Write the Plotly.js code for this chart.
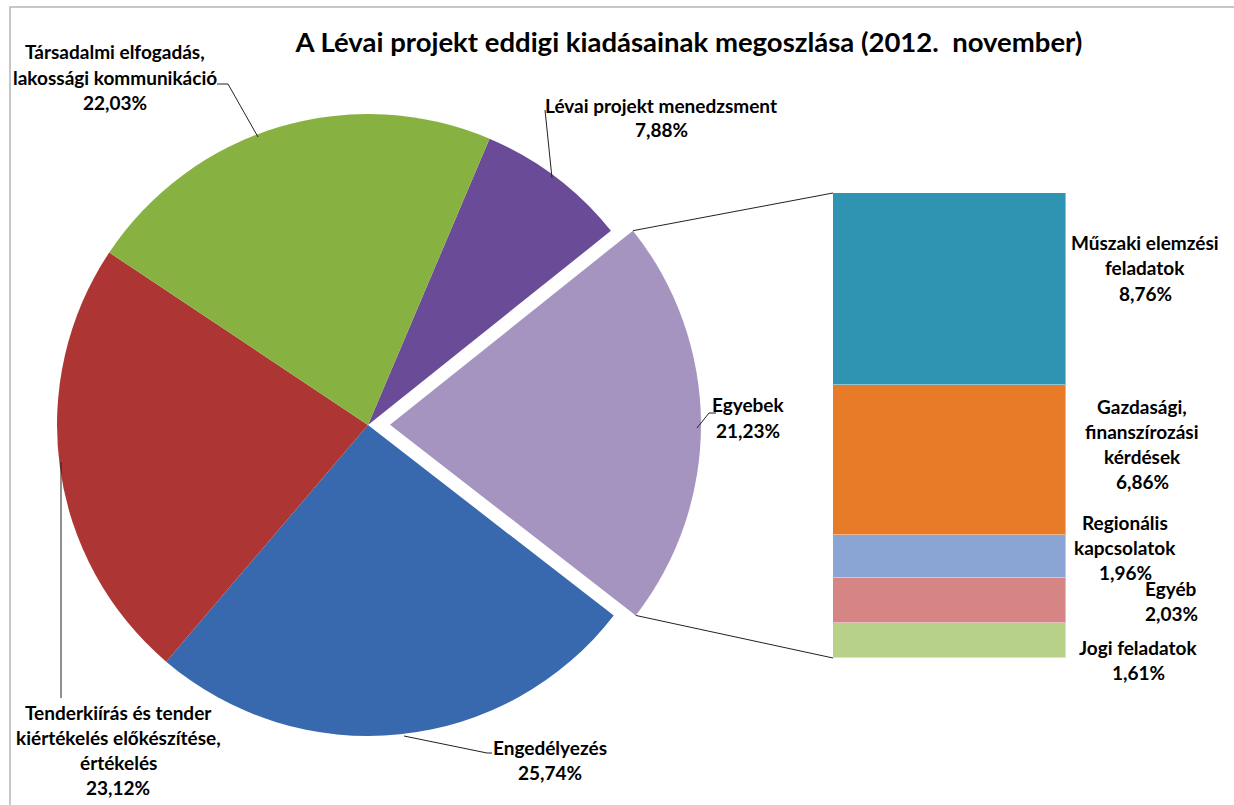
<!DOCTYPE html>
<html><head><meta charset="utf-8">
<script src="https://cdn.plot.ly/plotly-3.0.1.min.js"></script>
<style>body{margin:0;background:#fff}#chart{width:1234px;height:805px}</style>
</head><body><div id="chart"></div>
<script>
// ---- data ----
const titleText = "A Lévai projekt eddigi kiadásainak megoszlása (2012.\u00a0 november)";
const pieLabelLines = [
  ["Lévai projekt menedzsment"],
  ["Egyebek"],
  ["Engedélyezés"],
  ["Tenderkiírás és tender", "kiértékelés előkészítése,", "értékelés"],
  ["Társadalmi elfogadás,", "lakossági kommunikáció"]
];
const pieValues = [7.88, 21.23, 25.74, 23.12, 22.03];
const barLabelLines = [
  ["Jogi feladatok"],
  ["Egyéb"],
  ["Regionális", "kapcsolatok"],
  ["Gazdasági,", "finanszírozási", "kérdések"],
  ["Műszaki elemzési", "feladatok"]
];
const barValues = [1.61, 2.03, 1.96, 6.86, 8.76];

// ---- styles / positions ----
const pieColors = ["#6a4b97", "#a594c0", "#3869ae", "#ad3634", "#87b140"];
const barColors = ["#b8d189", "#d48584", "#8aa4d4", "#e87b27", "#2f94b2"];
const W = 1234, H = 805;
const pieCx = 368, pieCy = 425, pieR = 311, pullFrac = 0.0707, rotation = 23;
const pieLabelPos = [[661, 105], [748, 405], [550, 747], [118, 712], [115, 52]];
const barLabelPos = [[1138, 647], [1171, 588], [1125, 522], [1142, 406], [1145, 243]];
const lineGap = 25;
const barBox = {x0: 833, x1: 1066, y0: 193, y1: 658};

const fmt = v => v.toFixed(2).replace('.', ',') + '%';
const px = x => x / W;
const py = y => 1 - y / H;

const half = pieR * (1 + pullFrac);
const pieTrace = {
  type: 'pie',
  labels: pieLabelLines.map(l => l.join(' ')),
  values: pieValues,
  sort: false,
  direction: 'clockwise',
  rotation: rotation,
  pull: pieValues.map((v, i) => i === 1 ? pullFrac : 0),
  marker: {colors: pieColors, line: {width: 0}},
  textinfo: 'none',
  hoverinfo: 'label+percent',
  domain: {x: [px(pieCx - half), px(pieCx + half)], y: [py(pieCy + half), py(pieCy - half)]},
  showlegend: false
};

const barTotal = barValues.reduce((a, b) => a + b, 0);
const barTraces = barValues.map((v, i) => ({
  type: 'bar', x: [0], y: [v], width: [1],
  name: barLabelLines[i].join(' '),
  marker: {color: barColors[i], line: {color: 'rgba(255,255,255,0.45)', width: 1}},
  xaxis: 'x', yaxis: 'y', showlegend: false, hoverinfo: 'name+y'
}));

// annotations
const annFont = {family: 'Lato, "Open Sans", sans-serif', size: 19, color: '#000', weight: 'bold'};
const annotations = [];
function addLabel(lines, pos) {
  lines.forEach((t, j) => {
    annotations.push({
      xref: 'paper', yref: 'paper', x: px(pos[0]), y: py(pos[1] + j * lineGap),
      xanchor: 'center', yanchor: 'middle', showarrow: false, text: t, font: annFont
    });
  });
}
pieLabelLines.forEach((l, i) => addLabel(l.concat([fmt(pieValues[i])]), pieLabelPos[i]));
barLabelLines.forEach((l, i) => addLabel(l.concat([fmt(barValues[i])]), barLabelPos[i]));

// shapes
const path = pts => 'M ' + pts.map(p => px(p[0]) + ',' + py(p[1])).join(' L ');
const lineStyle = {color: '#222', width: 1};
const shapes = [];
// frame
shapes.push({type: 'rect', xref: 'paper', yref: 'paper', x0: px(10), x1: px(1240), y0: py(7), y1: py(812),
  line: {color: '#b5b5b5', width: 1.5}, layer: 'below'});
// leader lines
[
  [[217, 84], [228, 84], [258, 137]],
  [[545, 110], [552, 178]],
  [[716, 413], [709, 413], [697, 428]],
  [[404, 736], [487, 753], [492, 753]],
  [[61, 462], [61, 698]]
].forEach(p => shapes.push({type: 'path', xref: 'paper', yref: 'paper', path: path(p), line: lineStyle}));

// connector lines from the exploded slice to the bar
const total = pieValues.reduce((a, b) => a + b, 0);
const a0 = rotation + 360 * pieValues[0] / total;
const a1 = a0 + 360 * pieValues[1] / total;
const am = (a0 + a1) / 2 * Math.PI / 180;
const ecx = pieCx + pullFrac * pieR * Math.sin(am), ecy = pieCy - pullFrac * pieR * Math.cos(am);
const corner = a => [ecx + pieR * Math.sin(a * Math.PI / 180), ecy - pieR * Math.cos(a * Math.PI / 180)];
shapes.push({type: 'path', xref: 'paper', yref: 'paper', path: path([corner(a0), [barBox.x0, barBox.y0]]), line: lineStyle});
shapes.push({type: 'path', xref: 'paper', yref: 'paper', path: path([corner(a1), [barBox.x0, barBox.y1]]), line: lineStyle});

const layout = {
  width: W, height: H,
  margin: {l: 0, r: 0, t: 0, b: 0},
  paper_bgcolor: '#fff', plot_bgcolor: 'rgba(0,0,0,0)',
  showlegend: false,
  barmode: 'stack', bargap: 0,
  title: {text: titleText, x: px(689), xanchor: 'center', xref: 'paper', y: 1 - 42 / H, yref: 'container', yanchor: 'middle',
    font: {family: 'Lato, "Open Sans", sans-serif', size: 27.5, color: '#000', weight: 'bold'}},
  xaxis: {domain: [px(barBox.x0), px(barBox.x1)], range: [-0.5, 0.5], visible: false, fixedrange: true},
  yaxis: {domain: [py(barBox.y1), py(barBox.y0)], range: [0, barTotal], visible: false, fixedrange: true},
  annotations: annotations,
  shapes: shapes
};

Plotly.newPlot('chart', [pieTrace].concat(barTraces), layout, {displayModeBar: false});
</script>
</body></html>
